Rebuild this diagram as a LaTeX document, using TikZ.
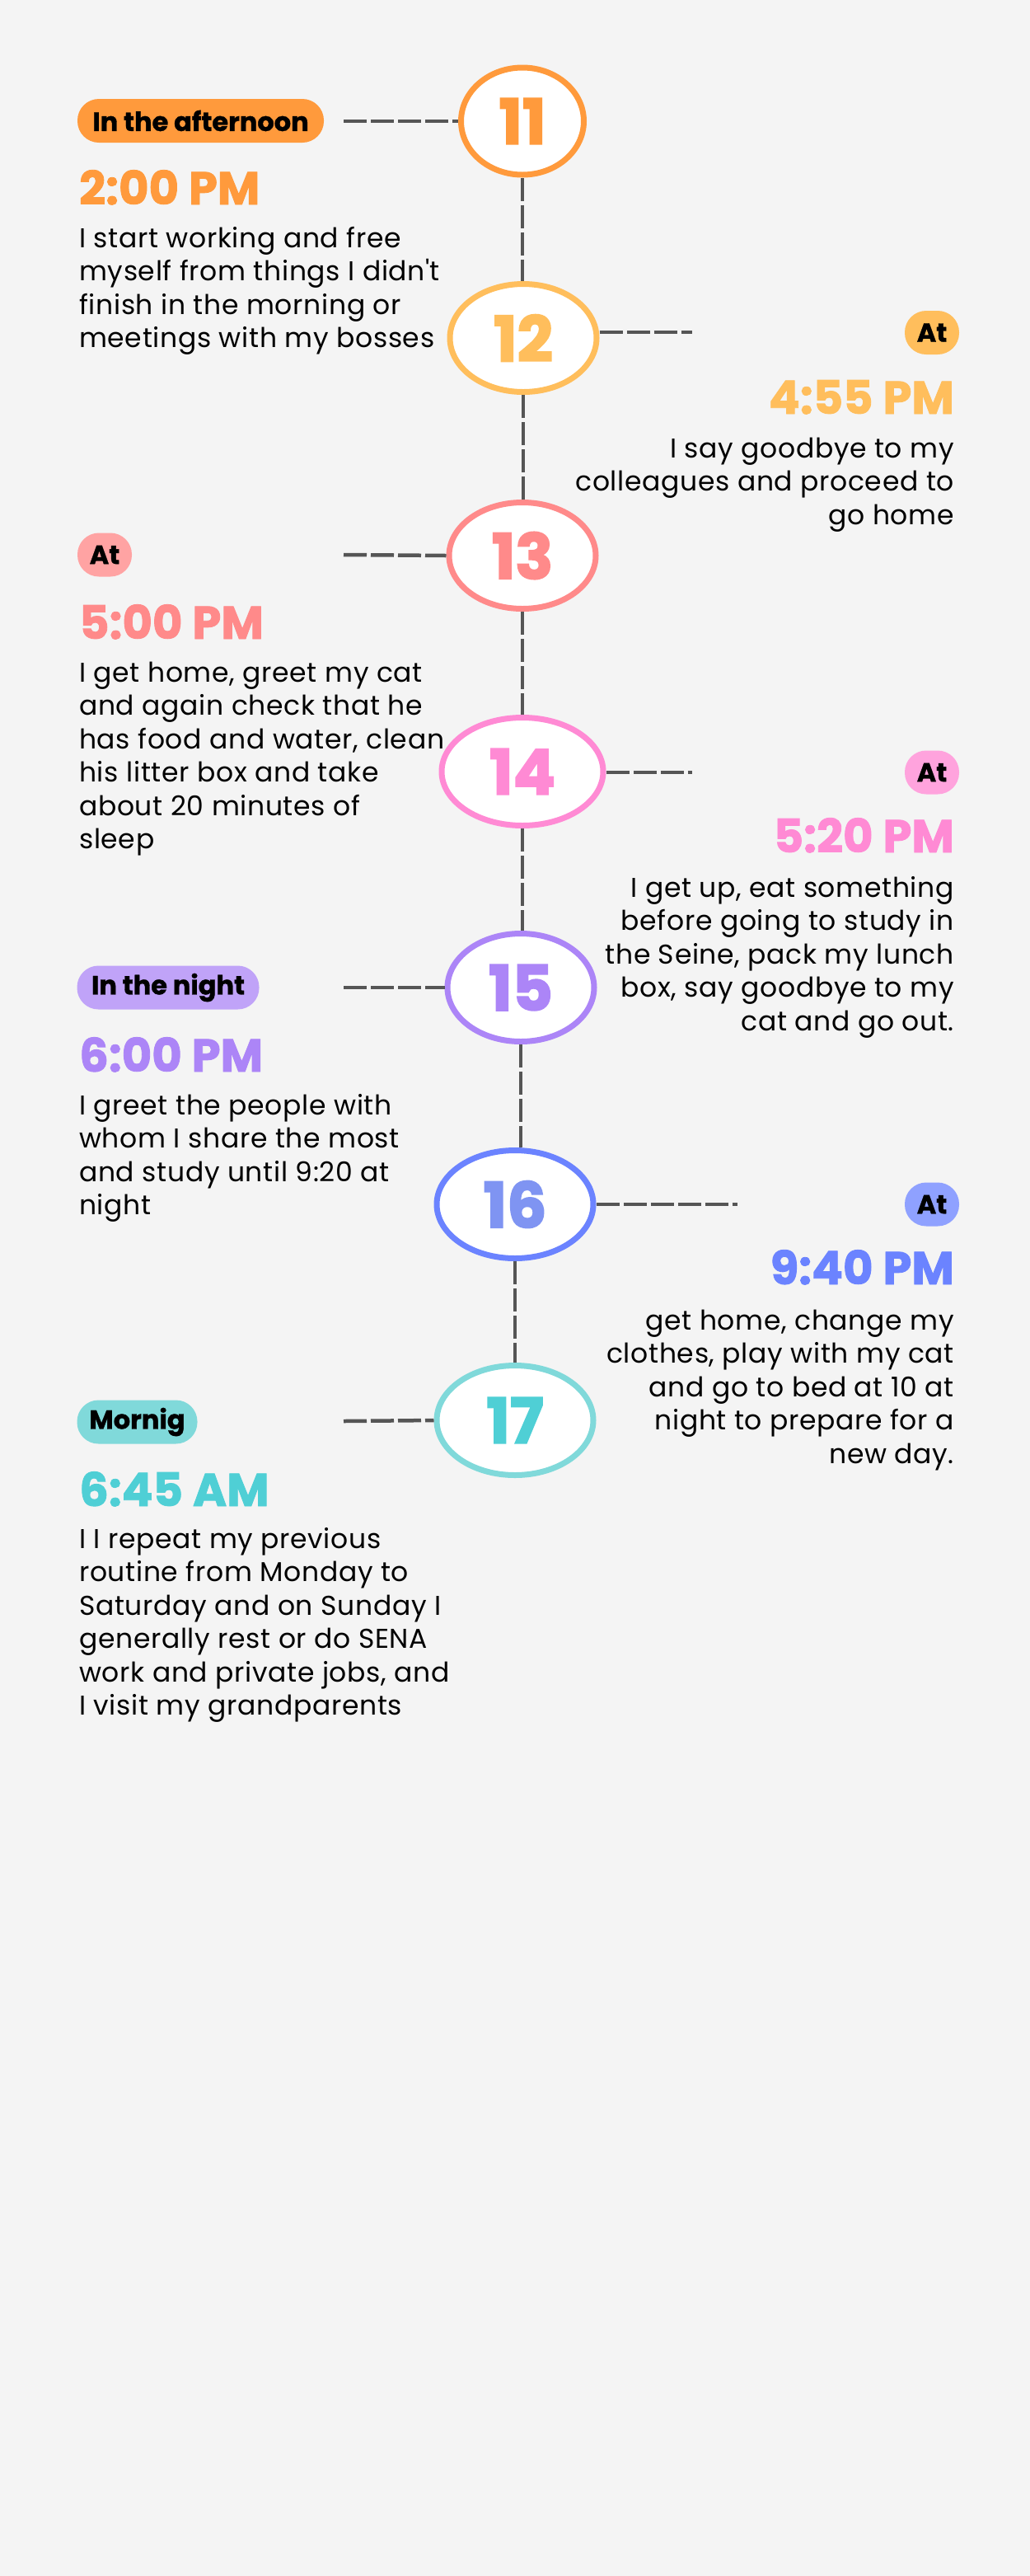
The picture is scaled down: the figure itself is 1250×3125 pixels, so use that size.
\documentclass[tikz,border=0pt]{standalone}
\usepackage{fontspec}
\setmainfont{Poppins}
\usetikzlibrary{shapes.geometric}
\definecolor{bg}{HTML}{F4F4F4}
\definecolor{dashc}{HTML}{555555}
\definecolor{cA}{HTML}{FF9A3C}
\definecolor{cB}{HTML}{FFBE5C}
\definecolor{cC}{HTML}{FF8A8A}
\definecolor{cCb}{HTML}{FFA3A3}
\definecolor{cD}{HTML}{FF8AD4}
\definecolor{cDb}{HTML}{FFA3DD}
\definecolor{cE}{HTML}{AC85F7}
\definecolor{cEb}{HTML}{C0A3F8}
\definecolor{cF}{HTML}{6B83FF}
\definecolor{cFn}{HTML}{7F94F2}
\definecolor{cFb}{HTML}{8FA1FF}
\definecolor{cG}{HTML}{80D9DA}
\definecolor{cGn}{HTML}{4FCFD5}
\begin{document}
\begin{tikzpicture}[x=1pt,y=-1pt,
  circ/.style={ellipse, draw, line width=7pt, fill=white, inner sep=0pt,
    minimum height=131pt, font=\fontsize{76}{76}\selectfont\bfseries\addfontfeatures{FakeBold=2.5}},
  badge/.style={rounded corners=26pt, minimum height=53pt, inner sep=0pt,
    font=\fontsize{32}{32}\selectfont\bfseries\addfontfeatures{FakeBold=1}, text=black},
  timetxt/.style={inner sep=0pt, font=\fontsize{56}{56}\selectfont\bfseries\addfontfeatures{FakeBold=1.5}},
  body/.style={inner sep=0pt, font=\fontsize{33}{40.5}\selectfont\addfontfeatures{LetterSpace=2}, text=black},
  conn/.style={draw=dashc, line width=4.5pt, dash pattern=on 28pt off 5pt}]
\useasboundingbox[fill=bg] (0,0) rectangle (1250,3125);

% circles
\node[circ, draw=cA, text=cA, minimum width=149pt, minimum height=130pt] (n11) at (634,147) {11};
\node[circ, draw=cB, text=cB, minimum width=178pt] (n12) at (635,410) {12};
\node[circ, draw=cC, text=cC, minimum width=178pt, minimum height=129pt] (n13) at (634,674) {13};
\node[circ, draw=cD, text=cD, minimum width=196pt] (n14) at (634,936) {14};
\node[circ, draw=cE, text=cE, minimum width=178pt] (n15) at (632,1198) {15};
\node[circ, draw=cF, text=cFn, minimum width=190pt] (n16) at (625,1461) {16};
\node[circ, draw=cG, text=cGn, minimum width=190pt, minimum height=133pt] (n17) at (625,1723) {17};

% vertical connectors
\draw[conn] (n11.south) -- (n11.south |- n12.north);
\draw[conn] (n12.south) -- (n12.south |- n13.north);
\draw[conn] (n13.south) -- (n13.south |- n14.north);
\draw[conn] (n14.south) -- (n14.south |- n15.north);
\draw[conn] (n15.south) -- (n15.south |- n16.north);
\draw[conn] (n16.south) -- (n16.south |- n17.north);

% horizontal connectors
\coordinate (h11) at (417,147);
\coordinate (h12) at (840,403);
\coordinate (h13) at (417,673);
\coordinate (h14) at (840,937);
\coordinate (h15) at (417,1198);
\coordinate (h16) at (895,1461);
\coordinate (h17) at (417,1724);
\draw[conn] (h11) -- (n11.west);
\draw[conn] (n12.east |- h12) -- (h12);
\draw[conn] (h13) -- (n13.west);
\draw[conn] (n14.east |- h14) -- (h14);
\draw[conn] (h15) -- (n15.west);
\draw[conn] (n16.east |- h16) -- (h16);
\draw[conn] (h17) -- (n17.west);

% badges
\node[badge, fill=cA, minimum width=299pt] (b11) at (243.5,146.5) {In the afternoon};
\node[badge, fill=cB, minimum width=66pt] (b12) at (1131,403.5) {At};
\node[badge, fill=cCb, minimum width=66pt] (b13) at (127,673) {At};
\node[badge, fill=cDb, minimum width=66pt] (b14) at (1131,937) {At};
\node[badge, fill=cEb, minimum width=221pt] (b15) at (204,1198) {In the night};
\node[badge, fill=cFb, minimum width=66pt] (b16) at (1131,1461) {At};
\node[badge, fill=cG, minimum width=146pt] (b17) at (166.5,1725) {Mornig};

% times
\node[timetxt, text=cA, anchor=base west] (t11) at (96,248) {2:00 PM};
\node[timetxt, text=cB, anchor=base east] (t12) at (1158,502) {4:55 PM};
\node[timetxt, text=cC, anchor=base west] (t13) at (96,775) {5:00 PM};
\node[timetxt, text=cD, anchor=base east] (t14) at (1158,1034) {5:20 PM};
\node[timetxt, text=cE, anchor=base west] (t15) at (96,1300) {6:00 PM};
\node[timetxt, text=cF, anchor=base east] (t16) at (1158,1558) {9:40 PM};
\node[timetxt, text=cGn, anchor=base west] (t17) at (96,1827) {6:45 AM};

% descriptions (anchored at the baseline of the last line)
\node[body, anchor=base west, align=left] (d11) at (96,421.5)
  {I start working and free\\myself from things I didn{\addfontfeatures{Ligatures=TeXOff}'}t\\finish in the morning or\\meetings with my bosses};
\node[body, anchor=base east, align=right] (d12) at (1158,636)
  {I say goodbye to my\\colleagues and proceed to\\go home};
\node[body, anchor=base west, align=left] (d13) at (96,1029.5)
  {I get home, greet my cat\\and again check that he\\has food and water, clean\\his litter box and take\\about 20 minutes of\\sleep};
\node[body, anchor=base east, align=right] (d14) at (1158,1250)
  {I get up, eat something\\before going to study in\\the Seine, pack my lunch\\box, say goodbye to my\\cat and go out.};
\node[body, anchor=base west, align=left] (d15) at (96,1473.5)
  {I greet the people with\\whom I share the most\\and study until 9:20 at\\night};
\node[body, anchor=base east, align=right] (d16) at (1158,1775)
  {get home, change my\\clothes, play with my cat\\and go to bed at 10 at\\night to prepare for a\\new day.};
\node[body, anchor=base west, align=left] (d17) at (96,2080.5)
  {I I repeat my previous\\routine from Monday to\\Saturday and on Sunday I\\generally rest or do SENA\\work and private jobs, and\\I visit my grandparents};
\end{tikzpicture}
\end{document}
